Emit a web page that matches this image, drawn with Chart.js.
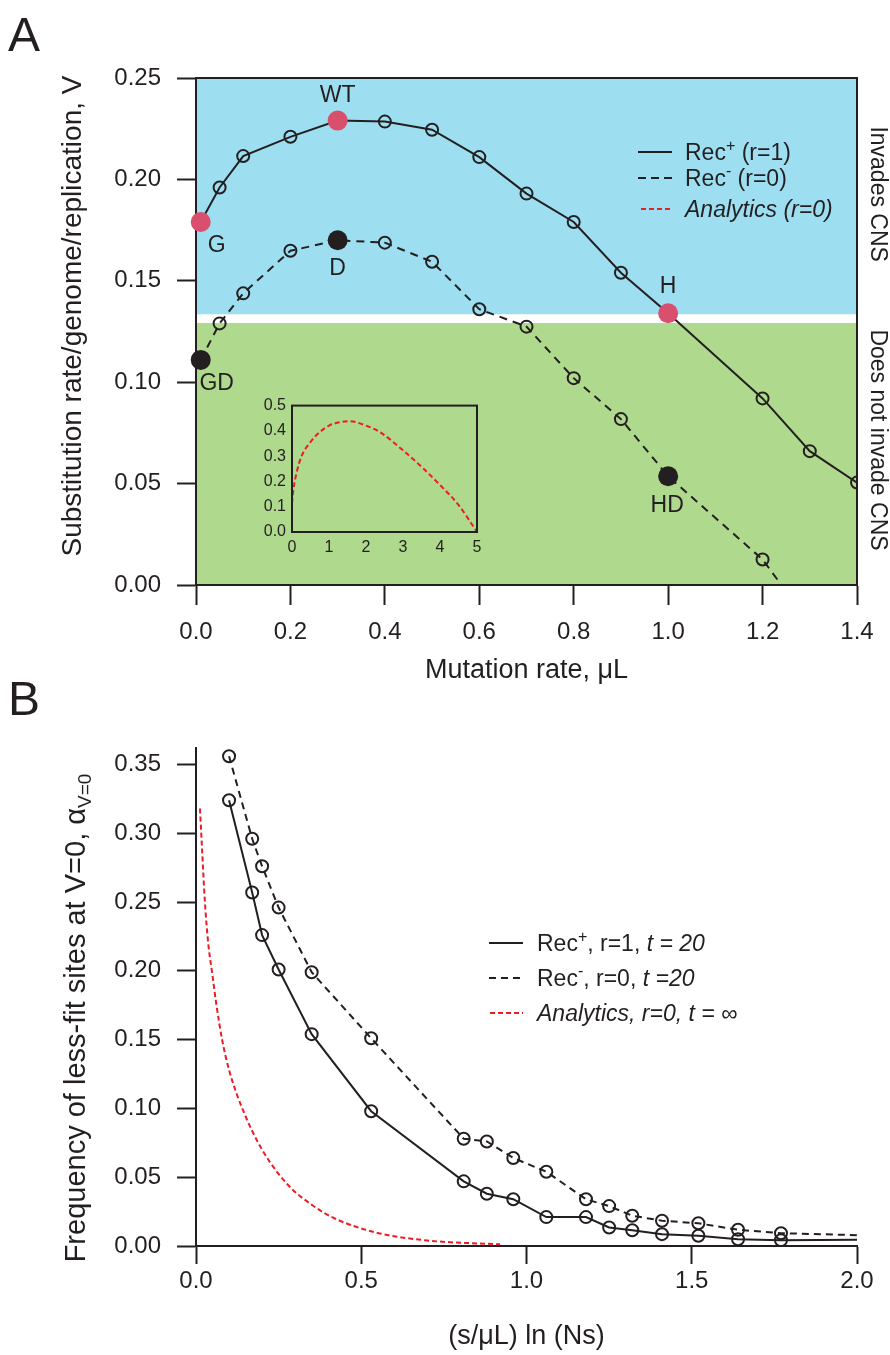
<!DOCTYPE html>
<html>
<head>
<meta charset="utf-8">
<script src="https://cdn.jsdelivr.net/npm/chart.js@4.4.1/dist/chart.umd.min.js"></script>
<style>
  body { margin: 0; background: #fff; }
  #wrap { position: relative; width: 890px; height: 1355px; }
  canvas { position: absolute; }
</style>
</head>
<body>
<div id="wrap">
  <canvas id="chartA" width="890" height="700" style="left:0;top:0"></canvas>
  <canvas id="chartInset" width="260" height="180" style="left:230px;top:390px"></canvas>
  <canvas id="chartB" width="890" height="695" style="left:0;top:660px"></canvas>
</div>
<script>
// ---------- panel A: substitution rate vs mutation rate ----------
const recPlusX  = [0.01, 0.05, 0.1, 0.2, 0.3, 0.4, 0.5, 0.6, 0.7, 0.8, 0.9, 1.0, 1.2, 1.3, 1.4];
const recPlusV  = [0.179, 0.196, 0.2115, 0.221, 0.229, 0.2285, 0.2245, 0.211, 0.193, 0.179, 0.154, 0.134, 0.092, 0.066, 0.0505];
const recMinusX = [0.01, 0.05, 0.1, 0.2, 0.3, 0.4, 0.5, 0.6, 0.7, 0.8, 0.9, 1.0, 1.2, 1.24];
const recMinusV = [0.111, 0.129, 0.1438, 0.1648, 0.170, 0.1688, 0.1594, 0.136, 0.1274, 0.102, 0.0818, 0.0536, 0.0126, 0.0];
const wtNames  = ['G', 'WT', 'H'];
const wtX      = [0.01, 0.3, 1.0];
const wtV      = [0.179, 0.229, 0.134];
const delNames = ['GD', 'D', 'HD'];
const delX     = [0.01, 0.3, 1.0];
const delV     = [0.111, 0.170, 0.0536];
const invadeTop  = 0.1335;   // lower edge of the "invades CNS" band
const noInvadeTop = 0.1292;  // upper edge of the "does not invade" band
const xTicksA = [0, 0.2, 0.4, 0.6, 0.8, 1.0, 1.2, 1.4];
const yTicksA = [0, 0.05, 0.10, 0.15, 0.20, 0.25];

// inset (analytics, r=0)
const insetX = [0, 0.04, 0.12, 0.25, 0.5, 0.75, 1.0, 1.29, 1.56, 2.0, 2.38, 3.0, 3.55, 4.0, 4.5, 5.0];
const insetY = [0.114, 0.17, 0.232, 0.297, 0.356, 0.395, 0.421, 0.434, 0.438, 0.421, 0.395, 0.323, 0.251, 0.186, 0.107, 0.0];
const xTicksInset = [0, 1, 2, 3, 4, 5];
const yTicksInset = [0, 0.1, 0.2, 0.3, 0.4, 0.5];

// ---------- panel B: frequency of less-fit sites ----------
const bX        = [0.10, 0.17, 0.20, 0.25, 0.35, 0.53, 0.81, 0.88, 0.96, 1.06, 1.18, 1.25, 1.32, 1.41, 1.52, 1.64, 1.77, 2.00];
const recPlusB  = [0.324, 0.257, 0.226, 0.201, 0.154, 0.098, 0.047, 0.038, 0.034, 0.021, 0.021, 0.0135, 0.0115, 0.0086, 0.0074, 0.0049, 0.0042, 0.0045];
const recMinusB = [0.356, 0.296, 0.276, 0.246, 0.199, 0.151, 0.078, 0.076, 0.064, 0.054, 0.034, 0.029, 0.022, 0.0184, 0.0165, 0.0118, 0.0093, 0.0079];
const anaX = [0.012, 0.018, 0.027, 0.037, 0.048, 0.062, 0.079, 0.1, 0.14, 0.2, 0.28, 0.35, 0.42, 0.55, 0.7, 0.92];
const anaY = [0.318, 0.29, 0.25, 0.22, 0.20, 0.175, 0.15, 0.128, 0.10, 0.07, 0.044, 0.03, 0.02, 0.0095, 0.004, 0.0012];
const xTicksB = [0, 0.5, 1.0, 1.5, 2.0];
const yTicksB = [0, 0.05, 0.10, 0.15, 0.20, 0.25, 0.30, 0.35];

const FAMILY = '"Liberation Sans", Arial, Helvetica, sans-serif';
const INK = '#231f20';
const RED = '#ec1c24';
const PINK = '#d9506e';
const BLUE = '#9ddff0';
const GREEN = '#afd98d';

Chart.defaults.font.family = FAMILY;
Chart.defaults.color = INK;

function pts(xs, ys) {
    return xs.map(function(x, i) { return { x: x, y: ys[i] }; });
}
function fnt(size, italic) {
    return (italic ? 'italic ' : '') + size + 'px ' + FAMILY;
}
// draws text made of several pieces (for super/subscripts)
function drawRich(ctx, parts, x, y, align) {
    let total = 0;
    parts.forEach(function(p) { ctx.font = p.f; total += ctx.measureText(p.t).width; });
    let cx = align === 'center' ? x - total / 2 : x;
    ctx.textAlign = 'left';
    ctx.textBaseline = 'alphabetic';
    parts.forEach(function(p) {
        ctx.font = p.f;
        ctx.fillText(p.t, cx, y + (p.dy || 0));
        cx += ctx.measureText(p.t).width;
    });
}
function legendRow(ctx, x0, x1, tx, y, color, dash, parts) {
    ctx.save();
    ctx.strokeStyle = color;
    ctx.lineWidth = 2;
    ctx.setLineDash(dash);
    ctx.beginPath();
    ctx.moveTo(x0, y);
    ctx.lineTo(x1, y);
    ctx.stroke();
    ctx.restore();
    ctx.fillStyle = INK;
    drawRich(ctx, parts, tx, y + 8, 'left');
}
function rotatedText(ctx, parts, cx, cy, angle, base) {
    ctx.save();
    ctx.translate(cx, cy);
    ctx.rotate(angle);
    ctx.fillStyle = INK;
    drawRich(ctx, parts, 0, base, 'center');
    ctx.restore();
}
function fixedTicks(list) {
    return function(scale) { scale.ticks = list.map(function(v) { return { value: v }; }); };
}
function axis(min, max, list, digits, tickLen, pad, fit) {
    return {
        type: 'linear', min: min, max: max,
        afterBuildTicks: fixedTicks(list),
        ticks: { callback: function(v) { return v.toFixed(digits); }, font: { size: 24 }, color: INK, padding: pad, maxRotation: 0, autoSkip: false },
        grid: { drawOnChartArea: false, drawTicks: true, tickLength: tickLen, tickWidth: 2, tickColor: INK },
        border: { color: INK, width: 2 },
        afterFit: fit
    };
}

const wtOffsets  = [[16, 24], [0, -25], [0, -27]];
const delOffsets = [[16, 24], [0, 28], [-1, 29]];

const panelAPlugin = {
    id: 'panelA',
    beforeDraw(chart) {
        const ctx = chart.ctx, a = chart.chartArea, y = chart.scales.y;
        ctx.save();
        ctx.fillStyle = BLUE;
        ctx.fillRect(a.left, a.top, a.right - a.left, y.getPixelForValue(invadeTop) - a.top);
        const g = y.getPixelForValue(noInvadeTop);
        ctx.fillStyle = GREEN;
        ctx.fillRect(a.left, g, a.right - a.left, a.bottom - g);
        ctx.restore();
    },
    beforeDatasetsDraw(chart) {
        const ctx = chart.ctx, a = chart.chartArea;
        ctx.save();
        ctx.strokeStyle = INK;
        ctx.lineWidth = 2;
        ctx.beginPath();
        ctx.moveTo(a.left, a.top);
        ctx.lineTo(a.right, a.top);
        ctx.lineTo(a.right, a.bottom);
        ctx.stroke();
        ctx.restore();
    },
    afterDraw(chart) {
        const ctx = chart.ctx, a = chart.chartArea, x = chart.scales.x, y = chart.scales.y;
        ctx.save();
        ctx.fillStyle = INK;
        ctx.font = fnt(23);
        ctx.textAlign = 'center';
        ctx.textBaseline = 'middle';
        wtNames.forEach(function(n, i) {
            ctx.fillText(n, x.getPixelForValue(wtX[i]) + wtOffsets[i][0], y.getPixelForValue(wtV[i]) + wtOffsets[i][1]);
        });
        delNames.forEach(function(n, i) {
            ctx.fillText(n, x.getPixelForValue(delX[i]) + delOffsets[i][0], y.getPixelForValue(delV[i]) + delOffsets[i][1]);
        });

        // legend
        legendRow(ctx, 638, 672, 685, 152, INK, [], [{ t: 'Rec', f: fnt(23) }, { t: '+', f: fnt(16), dy: -9 }, { t: ' (r=1)', f: fnt(23) }]);
        legendRow(ctx, 638, 672, 685, 178, INK, [8, 5], [{ t: 'Rec', f: fnt(23) }, { t: '-', f: fnt(16), dy: -10 }, { t: ' (r=0)', f: fnt(23) }]);
        legendRow(ctx, 641, 672, 685, 209, RED, [5, 3], [{ t: 'Analytics (r=0)', f: fnt(23, true) }]);

        // band labels on the right
        const top = a.top, mid = y.getPixelForValue(invadeTop);
        rotatedText(ctx, [{ t: 'Invades CNS', f: fnt(23) }], 879, (top + mid) / 2 - 2, Math.PI / 2, 8);
        rotatedText(ctx, [{ t: 'Does not invade CNS', f: fnt(23) }], 879, 440, Math.PI / 2, 8);

        // axis titles
        rotatedText(ctx, [{ t: 'Substitution rate/genome/replication, V', f: fnt(28) }], 71, 316, -Math.PI / 2, 10);
        ctx.fillStyle = INK;
        drawRich(ctx, [{ t: 'Mutation rate, \u03bcL', f: fnt(27) }], (a.left + a.right) / 2, 678, 'center');

        ctx.font = fnt(48);
        ctx.textAlign = 'left';
        ctx.textBaseline = 'alphabetic';
        ctx.fillText('A', 8, 51);
        ctx.restore();
    }
};

new Chart(document.getElementById('chartA'), {
    type: 'scatter',
    data: {
        datasets: [
            {
                label: 'Rec+ (r=1)', data: pts(recPlusX, recPlusV), showLine: true, order: 2,
                borderColor: INK, borderWidth: 2,
                pointRadius: 6, pointBorderWidth: 2, pointBorderColor: INK, pointBackgroundColor: 'rgba(0,0,0,0)'
            },
            {
                label: 'Rec- (r=0)', data: pts(recMinusX, recMinusV), showLine: true, order: 2,
                borderColor: INK, borderWidth: 2, borderDash: [8, 6],
                pointRadius: recMinusX.map(function(_, i) { return i === recMinusX.length - 1 ? 0 : 6; }),
                pointBorderWidth: 2, pointBorderColor: INK, pointBackgroundColor: 'rgba(0,0,0,0)'
            },
            {
                label: 'wild type', data: pts(wtX, wtV), clip: false, order: 0,
                pointRadius: 10, pointBorderWidth: 0, pointBackgroundColor: PINK, pointBorderColor: PINK
            },
            {
                label: 'defective', data: pts(delX, delV), clip: false, order: 0,
                pointRadius: 10, pointBorderWidth: 0, pointBackgroundColor: INK, pointBorderColor: INK
            }
        ]
    },
    options: {
        responsive: false,
        animation: false,
        events: [],
        layout: { padding: { top: 78, right: 33, left: 0, bottom: 0 } },
        plugins: { legend: { display: false }, tooltip: { enabled: false } },
        scales: {
            x: axis(0, 1.4, xTicksA, 1, 20, 13, function(s) { s.height = 115; }),
            y: axis(0, 0.25, yTicksA, 2, 19, 16, function(s) { s.width = 196; })
        }
    },
    plugins: [panelAPlugin]
});

// inset chart
const boxPlugin = {
    id: 'box',
    afterDatasetsDraw(chart) {
        const ctx = chart.ctx, a = chart.chartArea;
        ctx.save();
        ctx.strokeStyle = INK;
        ctx.lineWidth = 2;
        ctx.strokeRect(a.left, a.top, a.right - a.left, a.bottom - a.top);
        ctx.restore();
    }
};
function insetAxis(min, max, list, digits, pad, fit) {
    return {
        type: 'linear', min: min, max: max,
        afterBuildTicks: fixedTicks(list),
        ticks: { callback: function(v) { return v.toFixed(digits); }, font: { size: 16 }, color: INK, padding: pad, maxRotation: 0, autoSkip: false },
        grid: { display: false, drawTicks: false },
        border: { display: false },
        afterFit: fit
    };
}
new Chart(document.getElementById('chartInset'), {
    type: 'scatter',
    data: {
        datasets: [{
            data: pts(insetX, insetY), showLine: true, cubicInterpolationMode: 'monotone',
            borderColor: RED, borderWidth: 2, borderDash: [5, 3], pointRadius: 0
        }]
    },
    options: {
        responsive: false,
        animation: false,
        events: [],
        layout: { padding: { top: 15, right: 13, left: 0, bottom: 0 } },
        plugins: { legend: { display: false }, tooltip: { enabled: false } },
        scales: {
            x: insetAxis(0, 5, xTicksInset, 0, 6, function(s) { s.height = 38; }),
            y: insetAxis(0, 0.5, yTicksInset, 1, 6, function(s) { s.width = 62; })
        }
    },
    plugins: [boxPlugin]
});

// panel B
const panelBPlugin = {
    id: 'panelB',
    afterDraw(chart) {
        const ctx = chart.ctx, a = chart.chartArea;
        ctx.save();
        legendRow(ctx, 489, 523, 537, 283, INK, [],
            [{ t: 'Rec', f: fnt(23) }, { t: '+', f: fnt(16), dy: -9 }, { t: ', r=1, ', f: fnt(23) }, { t: 't = 20', f: fnt(23, true) }]);
        legendRow(ctx, 489, 523, 537, 318, INK, [7, 5],
            [{ t: 'Rec', f: fnt(23) }, { t: '-', f: fnt(16), dy: -10 }, { t: ', r=0, ', f: fnt(23) }, { t: 't =20', f: fnt(23, true) }]);
        legendRow(ctx, 490, 523, 537, 353, RED, [5, 3],
            [{ t: 'Analytics, r=0, t = \u221e', f: fnt(23, true) }]);

        rotatedText(ctx, [{ t: 'Frequency of less-fit sites at V=0, \u03b1', f: fnt(29) }, { t: 'V=0', f: fnt(19), dy: 6 }],
            75, 358, -Math.PI / 2, 10);
        ctx.fillStyle = INK;
        drawRich(ctx, [{ t: '(s/\u03bcL) ln (Ns)', f: fnt(27) }], (a.left + a.right) / 2, 684, 'center');

        ctx.font = fnt(48);
        ctx.textAlign = 'left';
        ctx.textBaseline = 'alphabetic';
        ctx.fillText('B', 8, 55);
        ctx.restore();
    }
};

new Chart(document.getElementById('chartB'), {
    type: 'scatter',
    data: {
        datasets: [
            {
                label: 'Analytics, r=0', data: pts(anaX, anaY), showLine: true, cubicInterpolationMode: 'monotone', order: 3,
                borderColor: RED, borderWidth: 2, borderDash: [5, 3], pointRadius: 0
            },
            {
                label: 'Rec+, r=1', data: pts(bX, recPlusB), showLine: true, order: 1,
                borderColor: INK, borderWidth: 2,
                pointRadius: bX.map(function(_, i) { return i === bX.length - 1 ? 0 : 6; }),
                pointBorderWidth: 2, pointBorderColor: INK, pointBackgroundColor: 'rgba(0,0,0,0)'
            },
            {
                label: 'Rec-, r=0', data: pts(bX, recMinusB), showLine: true, order: 2,
                borderColor: INK, borderWidth: 2, borderDash: [7, 5],
                pointRadius: bX.map(function(_, i) { return i === bX.length - 1 ? 0 : 6; }),
                pointBorderWidth: 2, pointBorderColor: INK, pointBackgroundColor: 'rgba(0,0,0,0)'
            }
        ]
    },
    options: {
        responsive: false,
        animation: false,
        events: [],
        layout: { padding: { top: 88, right: 33, left: 0, bottom: 0 } },
        plugins: { legend: { display: false }, tooltip: { enabled: false } },
        scales: {
            x: axis(0, 2.0, xTicksB, 1, 18, 3, function(s) { s.height = 109; }),
            y: axis(0, 0.362, yTicksB, 2, 19, 16, function(s) { s.width = 196; })
        }
    },
    plugins: [panelBPlugin]
});
</script>
</body>
</html>
